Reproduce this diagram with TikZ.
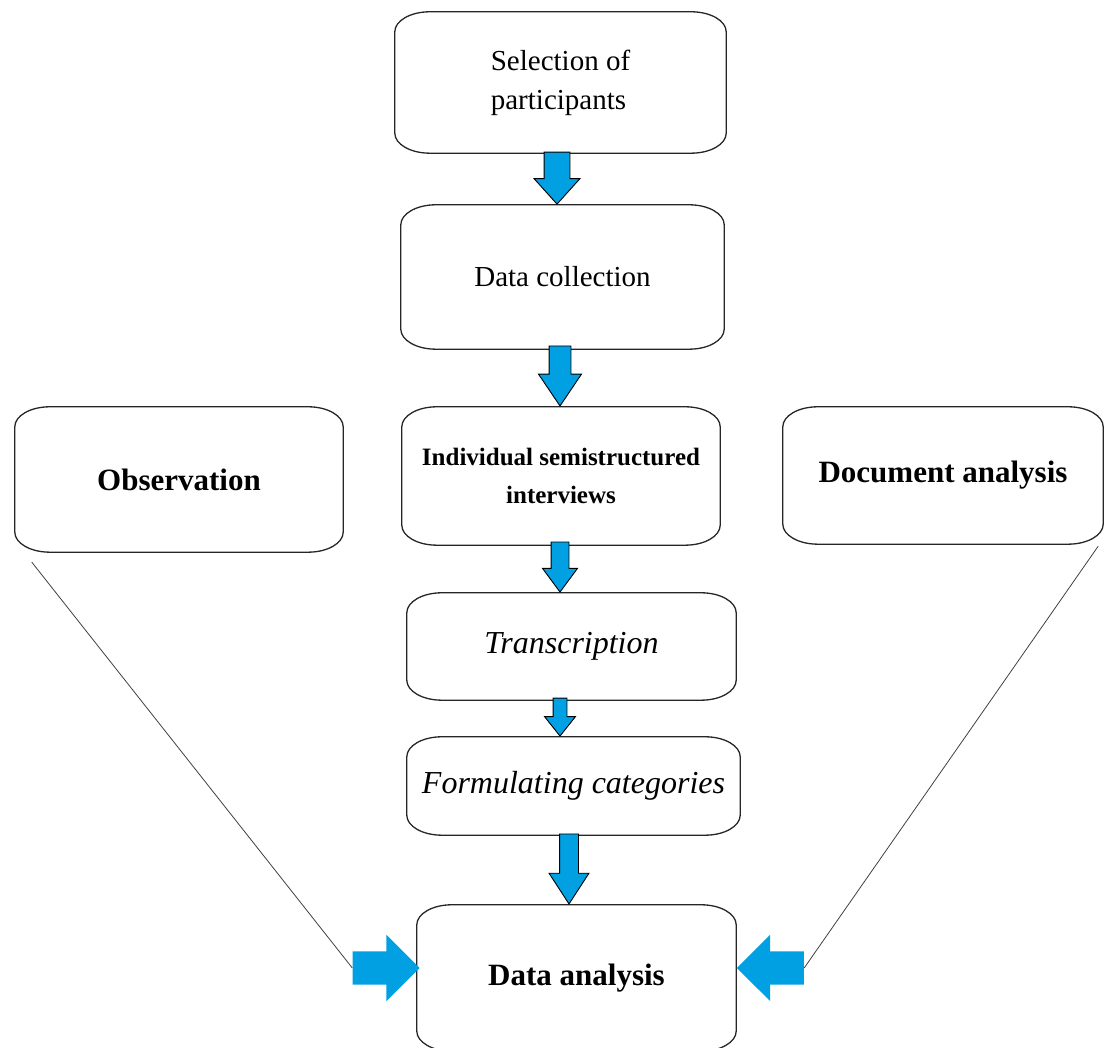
\documentclass[tikz,border=0pt]{standalone}
\usepackage{fontspec}
\setmainfont{Liberation Serif}
\usepackage{tikz}
\usetikzlibrary{shapes, shapes.arrows, calc, positioning}
\definecolor{arrowblue}{RGB}{0,160,227}
\tikzstyle{stage} = [rectangle, draw=none, text centered, inner sep=0pt]
\tikzstyle{outline} = [draw=black!85, line width=1.3pt]
\tikzstyle{downblock} = [single arrow, draw=black, line width=0.9pt, fill=arrowblue,
    rotate=-90, anchor=tip, inner xsep=0pt]
\tikzstyle{sideblock} = [single arrow, draw=none, fill=arrowblue, anchor=tip, inner xsep=0pt,
    inner ysep=16.5pt, minimum width=66pt, minimum height=67pt, single arrow head extend=16.5pt,
    single arrow tip angle=90]
\tikzstyle{thin} = [draw=black!75, line width=0.8pt]

\begin{document}
\begin{tikzpicture}[x=1pt, y=1pt]
    \useasboundingbox (0,0) rectangle (1104,1048);
    % Nodes
    \node [stage, minimum width=331pt, minimum height=141pt, align=left,
        font=\fontsize{29}{39}\selectfont] (sel) at (560.5,965.5) {Selection of\\participants};
    \node [stage, minimum width=323pt, minimum height=144pt,
        font=\fontsize{29}{39}\selectfont] (coll) at (562.5,771) {Data collection};
    \node [stage, minimum width=318pt, minimum height=138pt, align=center,
        font=\fontsize{25}{38}\selectfont\bfseries] (intv) at (561,572) {Individual semistructured\\interviews};
    \node [stage, minimum width=328pt, minimum height=145pt,
        font=\fontsize{31}{38}\selectfont\bfseries] (obs) at (179,568.5) {Observation};
    \node [stage, minimum width=320pt, minimum height=137pt,
        font=\fontsize{31}{38}\selectfont\bfseries] (doc) at (943,572.5) {Document analysis};
    \node [stage, minimum width=329pt, minimum height=107pt,
        font=\fontsize{32}{38}\selectfont\itshape] (trans) at (571.5,401.5) {Transcription};
    \node [stage, minimum width=333pt, minimum height=98pt,
        font=\fontsize{32}{38}\selectfont\itshape] (cat) at (573.5,262) {Formulating categories};
    \node [stage, minimum width=319pt, minimum height=146pt,
        font=\fontsize{31}{38}\selectfont\bfseries] (anal) at (576.5,70) {Data analysis};
    % Outlines
    \foreach \n in {sel, coll, intv, obs, doc, trans, cat, anal}
        \draw [outline] ($(\n.north west)+(0,-20)$) arc[start angle=180, end angle=90, x radius=35pt, y radius=20pt]
            -- ($(\n.north east)+(-35,0)$) arc[start angle=90, end angle=0, x radius=35pt, y radius=20pt]
            -- ($(\n.south east)+(0,20)$) arc[start angle=0, end angle=-90, x radius=35pt, y radius=20pt]
            -- ($(\n.south west)+(35,0)$) arc[start angle=270, end angle=180, x radius=35pt, y radius=20pt]
            -- cycle;
    % Arrows
    \node [downblock, inner ysep=12.5pt, minimum width=45pt, minimum height=52pt,
        single arrow head extend=10pt, single arrow tip angle=84] (a1) at (557,0 |- coll.north) {};
    \node [downblock, inner ysep=10.5pt, minimum width=42pt, minimum height=60pt,
        single arrow head extend=10.5pt, single arrow tip angle=68] (a2) at (560,0 |- intv.north) {};
    \node [downblock, inner ysep=8.5pt, minimum width=34pt, minimum height=50pt,
        single arrow head extend=8.5pt, single arrow tip angle=73] (a3) at (560,0 |- trans.north) {};
    \node [downblock, inner ysep=6.5pt, minimum width=30pt, minimum height=38pt,
        single arrow head extend=8.5pt, single arrow tip angle=77] (a4) at (560,0 |- cat.north) {};
    \node [downblock, inner ysep=9pt, minimum width=39pt, minimum height=70pt,
        single arrow head extend=10.5pt, single arrow tip angle=66] (a5) at (569,0 |- anal.north) {};
    \node [sideblock] (larr) at ($(anal.west)+(3,10)$) {};
    \node [sideblock, shape border rotate=180] (rarr) at ($(anal.east)+(0.5,10)$) {};
    % Edges
    \coordinate (obsfoot) at ($(obs.south west)+(17,-10)$);
    \coordinate (docfoot) at ($(doc.south east)+(-5,-2)$);
    \path [thin] (obsfoot) -- (larr.tail);
    \path [thin] (docfoot) -- (rarr.tail);
\end{tikzpicture}
\end{document}
